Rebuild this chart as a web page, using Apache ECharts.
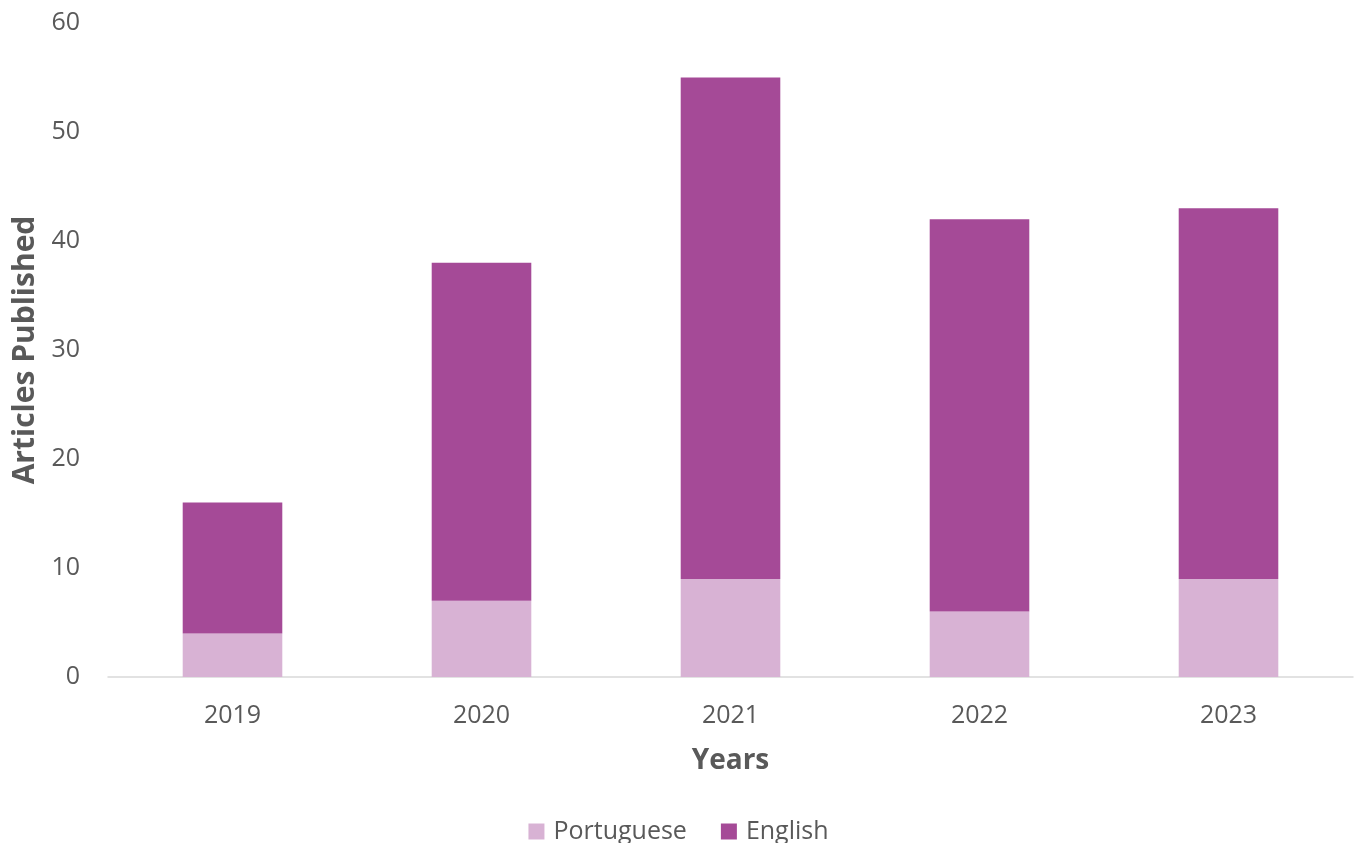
<!DOCTYPE html>
<html><head><meta charset="utf-8">
<script src="https://cdn.jsdelivr.net/npm/echarts@6/dist/echarts.min.js"></script>
<style>html,body{margin:0;padding:0;background:#fff}#c{width:1357px;height:843px}</style>
</head><body><div id="c"></div>
<script>
const years = ['2019','2020','2021','2022','2023'];
const portuguese = [4, 7, 9, 6, 9];
const english = [12, 31, 46, 36, 34];
const yTicks = [0, 10, 20, 30, 40, 50, 60];

const chart = echarts.init(document.getElementById('c'));
const font = '"Open Sans", "Noto Sans", sans-serif';
chart.setOption({
  animation: false,
  textStyle: {fontFamily: font},
  grid: {left: 108, right: 4, top: 23, bottom: 166},
  legend: {
    top: 814, left: 'center',
    itemWidth: 16, itemHeight: 16, itemGap: 34,
    icon: 'rect',
    textStyle: {fontSize: 25, color: '#595959', fontFamily: font, padding: [0, 0, 0, 4]},
    data: ['Portuguese', 'English']
  },
  xAxis: {
    type: 'category', data: years,
    name: 'Years', nameLocation: 'middle', nameGap: 70,
    nameTextStyle: {fontSize: 28, fontWeight: 'bold', color: '#595959', fontFamily: font},
    axisLine: {lineStyle: {color: '#d9d9d9', width: 1.5}},
    axisTick: {show: false},
    axisLabel: {fontSize: 25, color: '#595959', margin: 26, fontFamily: font}
  },
  yAxis: {
    type: 'value', min: yTicks[0], max: yTicks[yTicks.length-1], interval: 10,
    name: 'Articles Published', nameLocation: 'middle', nameGap: 64,
    nameTextStyle: {fontSize: 30, fontWeight: 'bold', color: '#595959', fontFamily: font},
    axisLine: {show: false}, axisTick: {show: false},
    splitLine: {show: false},
    axisLabel: {fontSize: 25, color: '#595959', margin: 28, fontFamily: font}
  },
  series: [
    {name: 'Portuguese', type: 'bar', stack: 'a', data: portuguese, barWidth: '40%',
     itemStyle: {color: '#D8B2D4'}},
    {name: 'English', type: 'bar', stack: 'a', data: english, barWidth: '40%',
     itemStyle: {color: '#A54A97'}}
  ]
});
</script></body></html>
